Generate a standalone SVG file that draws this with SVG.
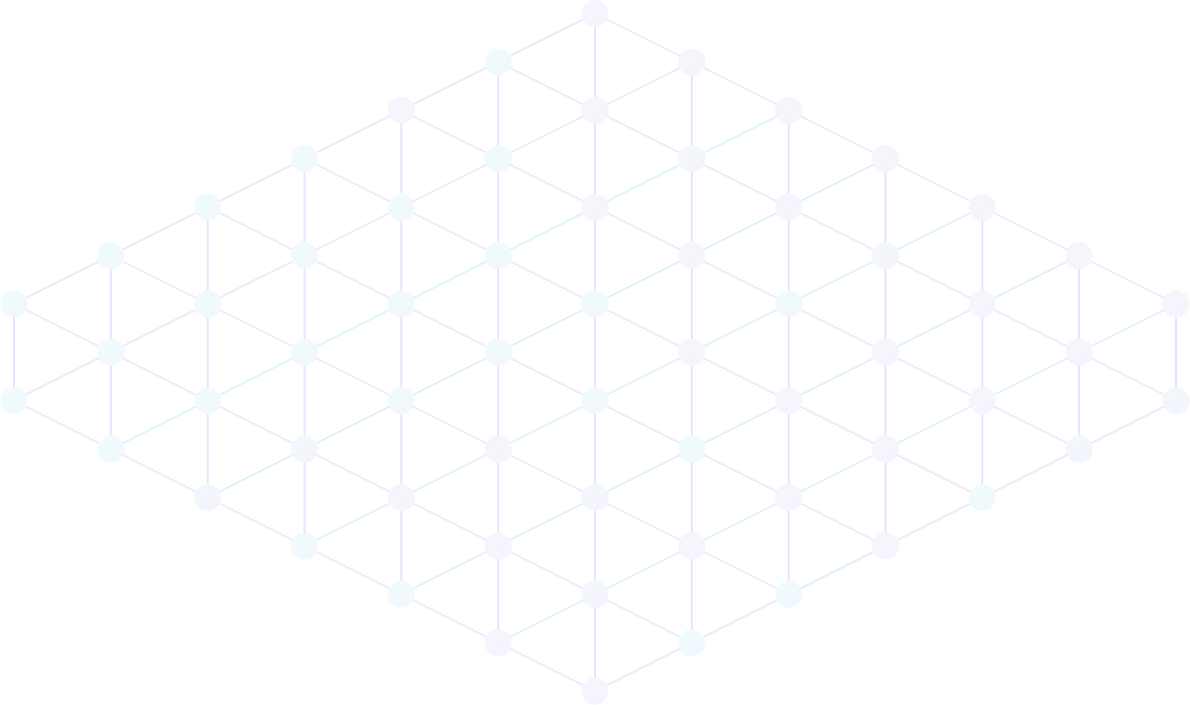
<svg xmlns="http://www.w3.org/2000/svg" width="1190" height="705" viewBox="0 0 1190 705">
<defs>
<linearGradient id="gC" x1="0" y1="0" x2="1" y2="1"><stop offset="0" stop-color="#eefcfe"/><stop offset="1" stop-color="#f3f7fd"/></linearGradient>
<linearGradient id="gL" x1="0" y1="0" x2="1" y2="1"><stop offset="0" stop-color="#f9f3fd"/><stop offset="1" stop-color="#f3f6fd"/></linearGradient>
<linearGradient id="gM" x1="0" y1="0" x2="1" y2="1"><stop offset="0" stop-color="#f1f8fd"/><stop offset="1" stop-color="#f6f3fd"/></linearGradient>
</defs>
<style>
line{stroke-width:2;fill:none;stroke-linecap:round}
.v{stroke:#e8e4fa}
.d{stroke:#f0ebf9}
.al{stroke:#efeaf9}
.ac{stroke:#e0f3fb}
circle{r:13.5}
.C{fill:url(#gC)}
.L{fill:url(#gL)}
.M{fill:url(#gM)}
</style>
<rect width="1190" height="705" fill="#ffffff"/>
<g id="connectors">
<line class="v" x1="14" y1="303.9" x2="14" y2="400.7"/>
<line class="v" x1="110.8" y1="255.5" x2="110.8" y2="449.1"/>
<line class="v" x1="207.7" y1="207.1" x2="207.7" y2="497.5"/>
<line class="v" x1="304.5" y1="158.7" x2="304.5" y2="545.9"/>
<line class="v" x1="401.3" y1="110.3" x2="401.3" y2="594.3"/>
<line class="v" x1="498.2" y1="61.9" x2="498.2" y2="642.7"/>
<line class="v" x1="595" y1="13.5" x2="595" y2="691.1"/>
<line class="v" x1="691.8" y1="61.9" x2="691.8" y2="642.7"/>
<line class="v" x1="788.7" y1="110.3" x2="788.7" y2="594.3"/>
<line class="v" x1="885.5" y1="158.7" x2="885.5" y2="545.9"/>
<line class="v" x1="982.3" y1="207.1" x2="982.3" y2="497.5"/>
<line class="v" x1="1079.2" y1="255.5" x2="1079.2" y2="449.1"/>
<line class="v" x1="1176" y1="303.9" x2="1176" y2="400.7"/>
<line class="d" x1="14" y1="400.7" x2="595" y2="691.1"/>
<line class="d" x1="14" y1="303.9" x2="691.8" y2="642.7"/>
<line class="d" x1="110.8" y1="255.5" x2="788.7" y2="594.3"/>
<line class="d" x1="207.7" y1="207.1" x2="885.5" y2="545.9"/>
<line class="d" x1="304.5" y1="158.7" x2="982.3" y2="497.5"/>
<line class="d" x1="401.3" y1="110.3" x2="1079.2" y2="449.1"/>
<line class="d" x1="498.2" y1="61.9" x2="1176" y2="400.7"/>
<line class="d" x1="595" y1="13.5" x2="1176" y2="303.9"/>
<line class="al" x1="14" y1="303.9" x2="595" y2="13.5"/>
<line class="al" x1="14" y1="400.7" x2="691.8" y2="61.9"/>
<line class="ac" x1="110.8" y1="449.1" x2="788.7" y2="110.3"/>
<line class="ac" x1="207.7" y1="497.5" x2="885.5" y2="158.7"/>
<line class="ac" x1="304.5" y1="545.9" x2="982.3" y2="207.1"/>
<line class="ac" x1="401.3" y1="594.3" x2="1079.2" y2="255.5"/>
<line class="ac" x1="498.2" y1="642.7" x2="1176" y2="303.9"/>
<line class="al" x1="595" y1="691.1" x2="1176" y2="400.7"/>
<line class="ac" x1="788.7" y1="594.3" x2="885.5" y2="545.9"/>
</g>
<g id="nodes">
<g id="n-0-6"><circle class="C" cx="14" cy="303.9"/></g>
<g id="n-0-8"><circle class="C" cx="14" cy="400.7"/></g>
<g id="n-1-5"><circle class="C" cx="110.8" cy="255.5"/></g>
<g id="n-1-7"><circle class="C" cx="110.8" cy="352.3"/></g>
<g id="n-1-9"><circle class="C" cx="110.8" cy="449.1"/></g>
<g id="n-2-4"><circle class="C" cx="207.7" cy="207.1"/></g>
<g id="n-2-6"><circle class="C" cx="207.7" cy="303.9"/></g>
<g id="n-2-8"><circle class="C" cx="207.7" cy="400.7"/></g>
<g id="n-2-10"><circle class="M" cx="207.7" cy="497.5"/></g>
<g id="n-3-3"><circle class="C" cx="304.5" cy="158.7"/></g>
<g id="n-3-5"><circle class="C" cx="304.5" cy="255.5"/></g>
<g id="n-3-7"><circle class="C" cx="304.5" cy="352.3"/></g>
<g id="n-3-9"><circle class="M" cx="304.5" cy="449.1"/></g>
<g id="n-3-11"><circle class="C" cx="304.5" cy="545.9"/></g>
<g id="n-4-2"><circle class="L" cx="401.3" cy="110.3"/></g>
<g id="n-4-4"><circle class="C" cx="401.3" cy="207.1"/></g>
<g id="n-4-6"><circle class="C" cx="401.3" cy="303.9"/></g>
<g id="n-4-8"><circle class="C" cx="401.3" cy="400.7"/></g>
<g id="n-4-10"><circle class="L" cx="401.3" cy="497.5"/></g>
<g id="n-4-12"><circle class="C" cx="401.3" cy="594.3"/></g>
<g id="n-5-1"><circle class="C" cx="498.2" cy="61.9"/></g>
<g id="n-5-3"><circle class="C" cx="498.2" cy="158.7"/></g>
<g id="n-5-5"><circle class="C" cx="498.2" cy="255.5"/></g>
<g id="n-5-7"><circle class="C" cx="498.2" cy="352.3"/></g>
<g id="n-5-9"><circle class="L" cx="498.2" cy="449.1"/></g>
<g id="n-5-11"><circle class="L" cx="498.2" cy="545.9"/></g>
<g id="n-5-13"><circle class="L" cx="498.2" cy="642.7"/></g>
<g id="n-6-0"><circle class="L" cx="595" cy="13.5"/></g>
<g id="n-6-2"><circle class="L" cx="595" cy="110.3"/></g>
<g id="n-6-4"><circle class="L" cx="595" cy="207.1"/></g>
<g id="n-6-6"><circle class="C" cx="595" cy="303.9"/></g>
<g id="n-6-8"><circle class="C" cx="595" cy="400.7"/></g>
<g id="n-6-10"><circle class="M" cx="595" cy="497.5"/></g>
<g id="n-6-12"><circle class="M" cx="595" cy="594.3"/></g>
<g id="n-6-14"><circle class="L" cx="595" cy="691.1"/></g>
<g id="n-7-1"><circle class="L" cx="691.8" cy="61.9"/></g>
<g id="n-7-3"><circle class="M" cx="691.8" cy="158.7"/></g>
<g id="n-7-5"><circle class="L" cx="691.8" cy="255.5"/></g>
<g id="n-7-7"><circle class="L" cx="691.8" cy="352.3"/></g>
<g id="n-7-9"><circle class="C" cx="691.8" cy="449.1"/></g>
<g id="n-7-11"><circle class="L" cx="691.8" cy="545.9"/></g>
<g id="n-7-13"><circle class="C" cx="691.8" cy="642.7"/></g>
<g id="n-8-2"><circle class="L" cx="788.7" cy="110.3"/></g>
<g id="n-8-4"><circle class="L" cx="788.7" cy="207.1"/></g>
<g id="n-8-6"><circle class="C" cx="788.7" cy="303.9"/></g>
<g id="n-8-8"><circle class="L" cx="788.7" cy="400.7"/></g>
<g id="n-8-10"><circle class="L" cx="788.7" cy="497.5"/></g>
<g id="n-8-12"><circle class="C" cx="788.7" cy="594.3"/></g>
<g id="n-9-3"><circle class="L" cx="885.5" cy="158.7"/></g>
<g id="n-9-5"><circle class="M" cx="885.5" cy="255.5"/></g>
<g id="n-9-7"><circle class="L" cx="885.5" cy="352.3"/></g>
<g id="n-9-9"><circle class="L" cx="885.5" cy="449.1"/></g>
<g id="n-9-11"><circle class="L" cx="885.5" cy="545.9"/></g>
<g id="n-10-4"><circle class="L" cx="982.3" cy="207.1"/></g>
<g id="n-10-6"><circle class="L" cx="982.3" cy="303.9"/></g>
<g id="n-10-8"><circle class="L" cx="982.3" cy="400.7"/></g>
<g id="n-10-10"><circle class="C" cx="982.3" cy="497.5"/></g>
<g id="n-11-5"><circle class="L" cx="1079.2" cy="255.5"/></g>
<g id="n-11-7"><circle class="L" cx="1079.2" cy="352.3"/></g>
<g id="n-11-9"><circle class="M" cx="1079.2" cy="449.1"/></g>
<g id="n-12-6"><circle class="L" cx="1176" cy="303.9"/></g>
<g id="n-12-8"><circle class="M" cx="1176" cy="400.7"/></g>
</g>
</svg>
